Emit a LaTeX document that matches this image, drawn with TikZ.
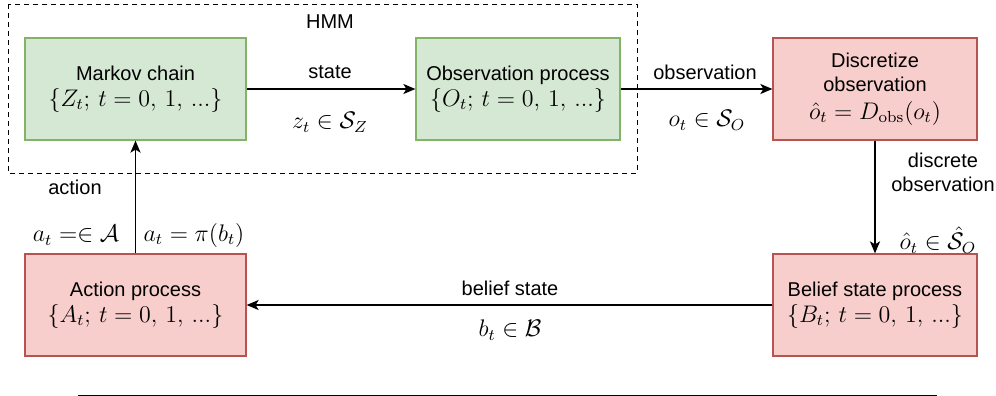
\documentclass[tikz,border=0pt]{standalone}
\usepackage{amsmath}
\usepackage{amssymb}
\usepackage[no-math]{fontspec}
\setmainfont{Liberation Sans}
\usepackage{tikz}
\usetikzlibrary{arrows.meta,positioning}

\definecolor{hmmfill}{HTML}{D5E8D4}
\definecolor{hmmdraw}{HTML}{82B366}
\definecolor{agentfill}{HTML}{F8CECC}
\definecolor{agentdraw}{HTML}{B85450}

\newcommand{\lgmath}[1]{{\large$#1$}}
\newcommand{\procset}[1]{{\large$\{#1_t;\, t=0,\,1,\,...\}$}}

\tikzset{
  hmmbox/.style={draw=hmmdraw,fill=hmmfill,line width=0.6pt,align=center,
    minimum width=#1,minimum height=51pt,inner sep=0pt},
  agentbox/.style={draw=agentdraw,fill=agentfill,line width=0.6pt,align=center,
    minimum width=#1,minimum height=51pt,inner sep=0pt},
  flow/.style={line width=0.9pt,-{Stealth[length=6pt,width=5pt,inset=1.5pt]}},
  lbl/.style={inner sep=0pt,align=center}
}

\begin{document}
\begin{tikzpicture}[x=0.5pt,y=-0.5pt]
\useasboundingbox (0,0) rectangle (996,396);

% HMM frame
\draw[line width=0.5pt,dash pattern=on 2.5pt off 2pt] (8,4) rectangle (637,173);
\node[lbl] (hmm) at (330,22) {HMM};

% boxes
\node[hmmbox=110.5pt] (markov) at (135.5,89) {Markov chain\\[1pt] \procset{Z}};
\node[hmmbox=102pt] (obsproc) at (518,89) {Observation process\\[1pt] \procset{O}};
\node[agentbox=102pt] (disc) at (875,89) {Discretize\\[0pt] observation\\[2pt] \lgmath{\hat{o}_t = D_{\mathrm{obs}}(o_t)}};
\node[agentbox=102pt] (belief) at (875,305) {Belief state process\\[1pt] \procset{B}};
\node[agentbox=110.5pt] (actproc) at (135.5,305) {Action process\\[1pt] \procset{A}};

% connectors
\draw[flow] (markov) -- (obsproc);
\draw[flow] (obsproc) -- (disc);
\draw[flow] (disc) -- (belief);
\draw[flow] (belief) -- (actproc);
\draw[flow] (actproc) -- (markov);

% labels
\node[lbl] (lstate) at (330,72) {state};
\node[lbl] (mstate) at (330,122) {\lgmath{z_t \in \mathcal{S}_Z}};
\node[lbl] (lobs) at (705,72) {observation};
\node[lbl] (mobs) at (707,120) {\lgmath{o_t \in \mathcal{S}_O}};
\node[lbl] (ldisc) at (943,172) {discrete\\ observation};
\node[lbl] (mdisc) at (938,240) {\lgmath{\hat{o}_t \in \hat{\mathcal{S}}_O}};
\node[lbl] (lbel) at (510,288) {belief state};
\node[lbl] (mbel) at (510,330) {\lgmath{b_t \in \mathcal{B}}};
\node[lbl] (lact) at (75,187) {action};
\node[lbl] (mact) at (76,235) {\lgmath{a_t = \in \mathcal{A}}};
\node[lbl] (mpol) at (194,235) {\lgmath{a_t = \pi(b_t)}};

% rule below
\coordinate (ruleL) at (78,395);
\coordinate (ruleR) at (937,395);
\draw[line width=0.5pt] (ruleL) -- (ruleR);
\end{tikzpicture}
\end{document}
